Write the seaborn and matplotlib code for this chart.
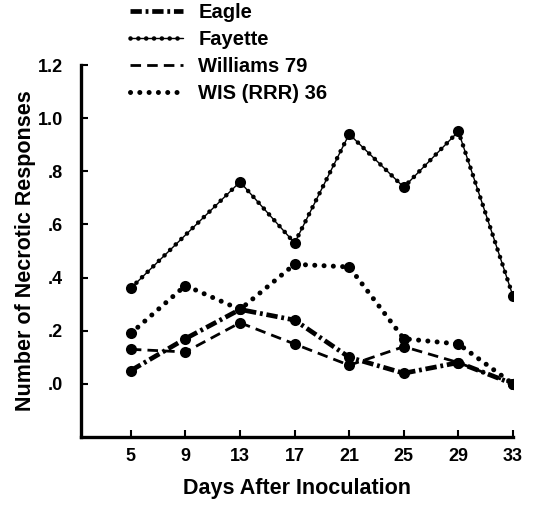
import numpy as np
import pandas as pd
import matplotlib
matplotlib.use("Agg")
import matplotlib.pyplot as plt
from matplotlib.lines import Line2D
import seaborn as sns

# values
days = [5, 9, 13, 17, 21, 25, 29, 33]
eagle = [0.05, 0.17, 0.28, 0.24, 0.10, 0.04, 0.08, 0.00]
fayette = [0.36, 0.56, 0.76, 0.53, 0.94, 0.74, 0.95, 0.33]
williams = [0.13, 0.12, 0.23, 0.15, 0.07, 0.14, 0.08, 0.00]
wis = [0.19, 0.37, 0.28, 0.45, 0.44, 0.17, 0.15, 0.00]
series_names = ["Eagle", "Fayette", "Williams 79", "WIS (RRR) 36"]
y_ticks = [0.0, 0.2, 0.4, 0.6, 0.8, 1.0, 1.2]
y_tick_labels = [".0", ".2", ".4", ".6", ".8", "1.0", "1.2"]

sns.set_style("ticks")
plt.rcParams["font.family"] = ["Liberation Sans", "DejaVu Sans"]
plt.rcParams["font.weight"] = "bold"
for key in ["text.color", "axes.labelcolor", "xtick.color", "ytick.color", "axes.edgecolor"]:
    plt.rcParams[key] = "black"

fig = plt.figure(figsize=(5.36, 5.05), dpi=100)
ax = fig.add_axes([81 / 536, 1 - 437 / 505, (513 - 81) / 536, (437 - 65) / 505])

# line styles
eagle_ls = (0, (2.4, 0.8, 0.6, 0.8))
will_ls = (0, (3.8, 2.2))
dot_ls = (0, (0.01, 1.85))
fay_dot_ls = (0, (0.01, 1.7))

mk = dict(marker="o", markersize=8, markeredgecolor="black", markerfacecolor="black", markeredgewidth=0)

sns.lineplot(x=days, y=eagle, ax=ax, color="black", lw=3.4, linestyle=eagle_ls,
             dash_capstyle="butt", **mk)
sns.lineplot(x=days, y=williams, ax=ax, color="black", lw=2, linestyle=will_ls,
             dash_capstyle="butt", **mk)
sns.lineplot(x=days, y=wis, ax=ax, color="black", lw=3.6, linestyle=dot_ls,
             dash_capstyle="round", **mk)
# Fayette: thin solid line with small beads along it
sns.lineplot(x=days, y=fayette, ax=ax, color="black", lw=1.0, markevery=[0, 2, 3, 4, 5, 6, 7], **mk)
sns.lineplot(x=days, y=fayette, ax=ax, color="black", lw=3.3, linestyle=fay_dot_ls,
             dash_capstyle="round")

ax.set_xlim(1.35, 33)
ax.set_ylim(-0.2, 1.2)
ax.set_xticks(days)
ax.set_xticklabels([str(d) for d in days], fontsize=13, fontweight="bold")
ax.set_yticks(y_ticks)
ax.set_yticklabels(y_tick_labels, fontsize=13, fontweight="bold")
ax.tick_params(axis="both", direction="in", length=5, width=1.5, color="black")
ax.tick_params(axis="x", pad=8)
ax.tick_params(axis="y", pad=13)

for side in ["top", "right"]:
    ax.spines[side].set_visible(False)
for side in ["left", "bottom"]:
    ax.spines[side].set_linewidth(2.4)
    ax.spines[side].set_color("black")

ax.set_xlabel("Days After Inoculation", fontsize=15.5, fontweight="bold", labelpad=9)
ax.set_ylabel("Number of Necrotic Responses", fontsize=15.5, fontweight="bold", labelpad=1)

handles = [
    Line2D([], [], color="black", lw=3.4, linestyle=eagle_ls, dash_capstyle="butt"),
    (Line2D([], [], color="black", lw=1.0),
     Line2D([], [], color="black", lw=3.3, linestyle=fay_dot_ls, dash_capstyle="round")),
    Line2D([], [], color="black", lw=2, linestyle=will_ls, dash_capstyle="butt"),
    Line2D([], [], color="black", lw=3.6, linestyle=dot_ls, dash_capstyle="round"),
]
fig.legend(handles, series_names, loc="upper left", bbox_to_anchor=(130 / 536, 1 - 3 / 505),
           frameon=False, handlelength=2.65, handletextpad=0.75,
           labelspacing=0.39, borderpad=0, borderaxespad=0,
           prop={"weight": "bold", "size": 14.5})

fig.savefig("out.png", dpi=100)
